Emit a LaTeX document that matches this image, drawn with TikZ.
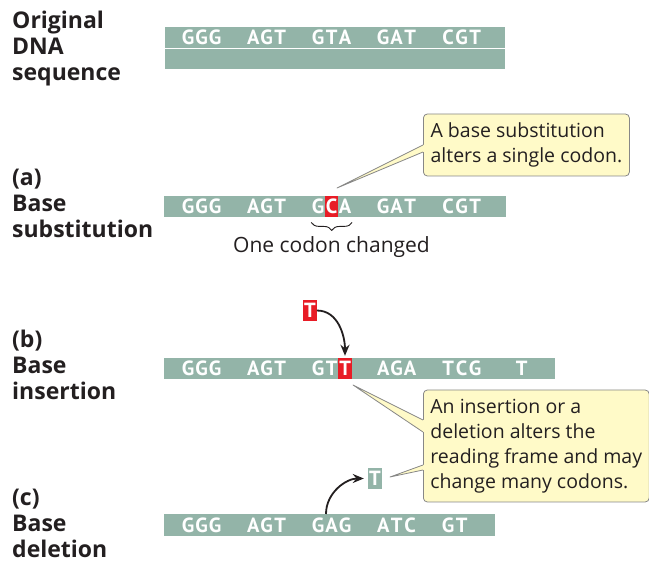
\documentclass[tikz,border=0pt]{standalone}
\usepackage{fontspec}
\setmainfont{Open Sans}
\newfontfamily\basefont{PT Sans}
\usepackage{tikz}
\usetikzlibrary{arrows.meta,decorations.pathreplacing}
\definecolor{dnagreen}{RGB}{147,180,168}
\definecolor{mutred}{RGB}{232,28,38}
\definecolor{noteyellow}{RGB}{255,250,200}
\definecolor{notegray}{RGB}{135,135,135}
\definecolor{inkgray}{RGB}{35,31,32}
% one fixed-width box per base letter
\newcommand{\bases}[1]{\expandafter\basesA#1\relax}
\def\basesA#1{\ifx#1\relax\else\makebox[13.5pt]{#1}\expandafter\basesA\fi}
% pointer from a callout box to a tip
\newcommand{\notepointer}[4]{%
  \fill[noteyellow] (#1) -- ([yshift=#3]#2.west) -- ([xshift=1.5pt,yshift=#3]#2.west) -- ([xshift=1.5pt,yshift=#4]#2.west) -- ([yshift=#4]#2.west) -- cycle;
  \draw[notegray,line width=0.8pt,line join=round] ([yshift=#3]#2.west) -- (#1) -- ([yshift=#4]#2.west);}

\begin{document}
\begin{tikzpicture}[x=1pt,y=-1pt,
  sidelabel/.style={font=\bfseries\fontsize{23}{26}\selectfont,align=left,anchor=base west,inner sep=0pt,text=inkgray},
  dnabar/.style={fill=dnagreen,inner sep=0pt,minimum height=21pt},
  codon/.style={text=white,font=\basefont\bfseries\fontsize{20.5}{20}\selectfont,inner sep=0pt,anchor=west},
  redbase/.style={fill=mutred,inner sep=0pt,minimum width=13.5pt,minimum height=21pt},
  notebox/.style={draw=notegray,fill=noteyellow,line width=0.8pt,rounded corners=4pt,align=left,anchor=west,
    inner xsep=7pt,minimum width=206pt,font=\fontsize{19.5}{25}\selectfont,text=inkgray},
  arrow/.style={-{Stealth[length=11pt,width=9pt]},line width=1.8pt,inkgray}]
\useasboundingbox (0,0) rectangle (649,564);

% row labels (anchored at the last line)
\node[sidelabel] (origlab) at (12,81) {Original\\DNA\\sequence};
\node[sidelabel] (sublab) at (12,238) {(a)\\Base\\substitution};
\node[sidelabel] (inslab) at (12,400) {(b)\\Base\\insertion};
\node[sidelabel] (dellab) at (12,558) {(c)\\Base\\deletion};

% original sequence
\node[dnabar,minimum width=340pt,minimum height=21.5pt] (orig) at (335,37.75) {};
\node[dnabar,minimum width=340pt,minimum height=19.5pt] (origlow) at (335,59.25) {};
\foreach \cod [count=\k from 0] in {GGG,AGT,GTA,GAT,CGT}
  \node[codon] (orig\k) at (181.25+65*\k,37.75) {\bases{\cod}};

% (a) substitution
\node[dnabar,minimum width=342pt] (subbar) at (335,206.75) {};
\node[redbase] (subC) at (331.5,206.75) {};
\foreach \cod [count=\k from 0] in {GGG,AGT,GCA,GAT,CGT}
  \node[codon] (sub\k) at (181.25+65*\k,206.75) {\bases{\cod}};
\draw[decorate,decoration={brace,amplitude=8pt,mirror},inkgray,line width=0.9pt] ([yshift=-8pt]sub2.south west) -- ([yshift=-8pt]sub2.south east);
\node[anchor=base,font=\fontsize{21}{25}\selectfont,text=inkgray] (changed) at (331.5,253) {One codon changed};

\node[notebox,minimum height=62pt] (notea) at (423,145) {A base substitution\\alters a single codon.};
\coordinate (subtip) at (337,188);
\notepointer{subtip}{notea}{0pt}{-7pt}

% (b) insertion
\node[dnabar,minimum width=391pt] (insbar) at (359.5,368.5) {};
\node[redbase] (insT) at (345,368.5) {};
\foreach \cod [count=\k from 0] in {GGG,AGT,GTT,AGA,TCG}
  \node[codon] (ins\k) at (181.25+65*\k,368.5) {\bases{\cod}};
\node[codon] (ins5) at (514.75,368.5) {\bases{T}};
\node[redbase,codon,anchor=center] (newT) at (310,310.5) {\bases{T}};
\draw[arrow,shorten >=2pt] (newT.east) to[out=0,in=90] (insT.north);

\node[notebox,minimum height=112pt] (noteb) at (423,446) {An insertion or a\\deletion alters the\\reading frame and may\\change many codons.};
\coordinate (instip) at (353,385);
\coordinate (deltip) at (390,477);
\notepointer{instip}{noteb}{26pt}{14pt}
\notepointer{deltip}{noteb}{-19pt}{-24pt}

% (c) deletion
\node[dnabar,minimum width=331pt] (delbar) at (329.5,525) {};
\foreach \cod [count=\k from 0] in {GGG,AGT,GAG,ATC,GT}
  \node[codon] (del\k) at (181.25+65*\k,525) {\bases{\cod}};
\node[dnabar,codon,anchor=center,minimum width=14pt] (lostT) at (375,478.5) {\bases{T}};
\coordinate (delfrom) at (326,514);
\draw[arrow,shorten >=4pt] (delfrom) to[out=90,in=180] (lostT.west);
\end{tikzpicture}
\end{document}
